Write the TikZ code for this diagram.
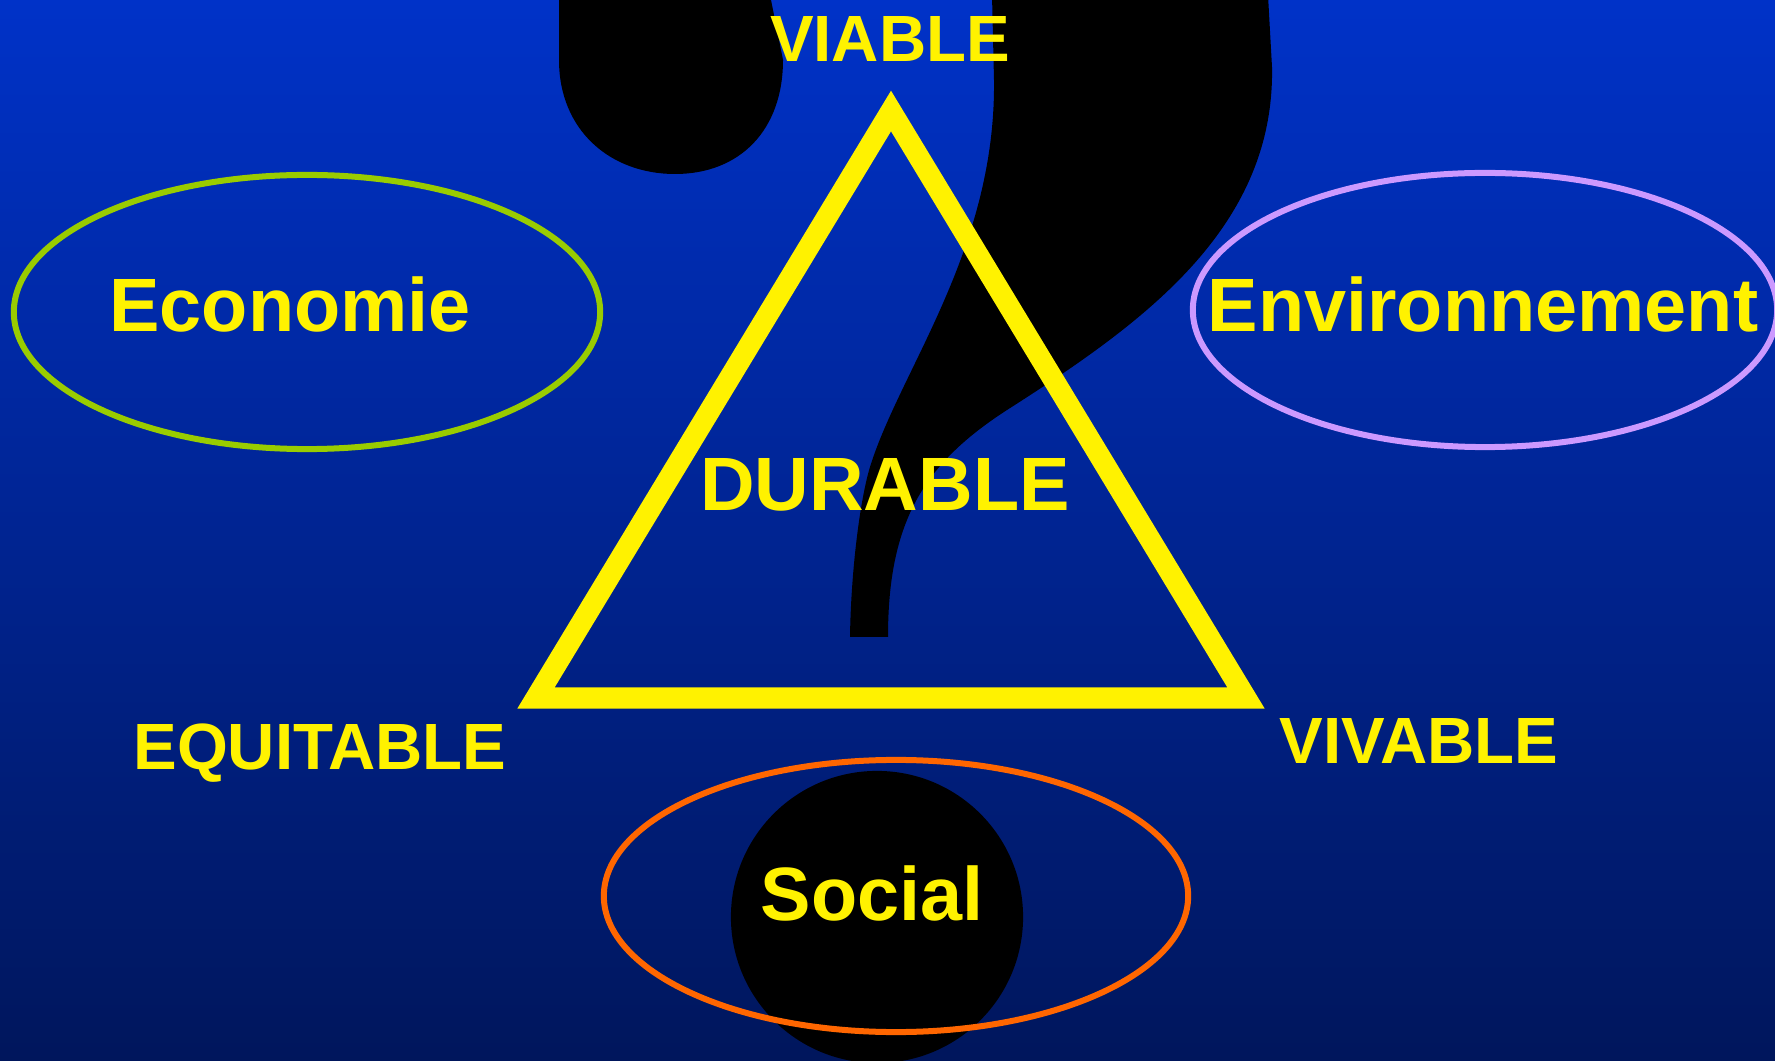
\documentclass[tikz,border=0pt]{standalone}
\usepackage{fontspec}
\setmainfont{Liberation Sans}
\definecolor{bgtop}{RGB}{0,50,200}
\definecolor{bgbottom}{RGB}{0,22,92}
\definecolor{ecogreen}{RGB}{153,204,0}
\definecolor{envviolet}{RGB}{204,153,255}
\definecolor{socorange}{RGB}{255,102,0}
\tikzset{
	bigword/.style={text=yellow, font=\bfseries\fontsize{21.5}{24}\selectfont, anchor=base, inner sep=0pt},
	smallword/.style={text=yellow, font=\bfseries\fontsize{18.6}{22}\selectfont, anchor=base, inner sep=0pt},
	ring/.style={line width=0.06cm}
}
\begin{document}
\begin{tikzpicture}[x=0.01cm, y=-0.01cm]
				\useasboundingbox (0,0) rectangle (1775,1061);
				\clip (0,0) rectangle (1775,1061);
				\shade[top color=bgtop, bottom color=bgbottom] (0,0) rectangle (1775,1061);

				\fill[black] (559,-5) -- (559,60) .. controls (559,130) and (610,174) .. (675,174)
				.. controls (740,174) and (783,130) .. (783,60) -- (770,-5) -- cycle;
				\fill[black] (992,-5) -- (994,80) .. controls (996,250) and (900,370) .. (870,467)
				.. controls (860,500) and (851,570) .. (850,637) -- (888,637)
				.. controls (888,520) and (925,463) .. (1007,410)
				.. controls (1140,325) and (1275,230) .. (1272,67) -- (1268,-5) -- cycle;
				\fill[black] (877,917) circle[radius=1.46cm];

				\draw[ring, ecogreen] (307,312) ellipse[x radius=2.93cm, y radius=1.37cm];
				\draw[ring, envviolet] (1485,310) ellipse[x radius=2.92cm, y radius=1.37cm];
				\draw[ring, socorange] (896,896) ellipse[x radius=2.92cm, y radius=1.36cm];

				\draw[line width=0.21cm, yellow] (891,111) -- (1246,698) -- (536,698) -- cycle;

				\node[smallword] (viable) at (890,62) {VIABLE};
				\node[bigword] (durable) at (885,511) {DURABLE};
				\node[bigword] (economie) at (290,332) {Economie};
				\node[bigword] (environnement) at (1483,332) {Environnement};
				\node[bigword] (social) at (872,920) {Social};
				\node[smallword] (equitable) at (320,769) {EQUITABLE};
				\node[smallword] (vivable) at (1419,763) {VIVABLE};
\end{tikzpicture}
\end{document}
